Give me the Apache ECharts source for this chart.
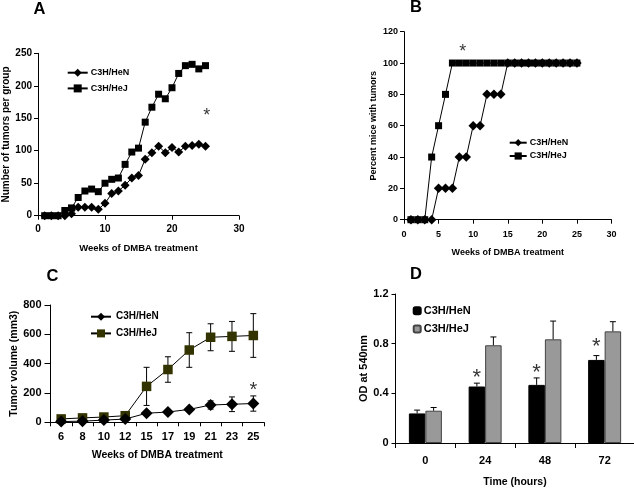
<!DOCTYPE html>
<html>
<head>
<meta charset="utf-8">
<script src="https://cdn.jsdelivr.net/npm/echarts@6/dist/echarts.min.js"></script>
<style>
html,body{margin:0;padding:0;background:#fff;}
#chart{width:634px;height:488px;}
</style>
</head>
<body>
<div id="chart"></div>
<script>
// ---------- data ----------
var seriesNames = ['C3H/HeN', 'C3H/HeJ'];

// Panel A: number of tumors per group
var weeksAB = [1,2,3,4,5,6,7,8,9,10,11,12,13,14,15,16,17,18,19,20,21,22,23,24,25];
var tumorsHeN = [0,0,0,0,3,13,13,13,10,19,34,38,47,58,62,87,97,107,97,105,98,107,108,110,107];
var tumorsHeJ = [0,0,0,8,12,28,38,41,37,50,56,58,79,98,104,144,167,187,180,197,219,231,233,226,231];
var starsA = [[25.2, 160]];

// Panel B: percent mice with tumors
var percentHeN = [0,0,0,0,20,20,20,40,40,60,60,80,80,80,100,100,100,100,100,100,100,100,100,100,100];
var percentHeJ = [0,0,0,40,60,80,100,100,100,100,100,100,100,100,100,100,100,100,100,100,100,100,100,100,100];
var starsB = [[8.5, 110]];

// Panel C: tumor volume
var weeksC = ['6','8','10','12','15','17','19','21','23','25'];
var volHeN = [5,8,15,22,62,70,88,118,123,128];
var volHeNErr = [4,5,6,8,12,12,14,28,50,52];
var volHeJ = [23,30,36,45,245,360,493,580,586,592];
var volHeJErr = [8,10,12,12,130,87,118,92,102,149];
var starsC = [['25', 254]];

// Panel D: OD at 540nm
var hoursD = ['0','24','48','72'];
var odHeN = [0.238,0.455,0.468,0.669];
var odHeNErr = [0.027,0.027,0.056,0.035];
var odHeJ = [0.26,0.787,0.835,0.899];
var odHeJErr = [0.026,0.067,0.147,0.078];
var starsD = [['24', 0.57], ['48', 0.61], ['72', 0.82]];

// ---------- helpers ----------
var FONT = 'Liberation Sans, Arial, sans-serif';
function zip(xs, ys) { return xs.map(function (x, i) { return [x, ys[i]]; }); }
function errData(ys, es) { return ys.map(function (y, i) { return [i, y, es[i]]; }); }
function stripName(n) { return n.replace(/^[A-D]:/, ''); }

function errRender(offsetPx, both, capHalf) {
  return function (params, api) {
    var x = api.value(0), y = api.value(1), e = api.value(2);
    var top = api.coord([x, y + e]);
    var bot = api.coord(both ? [x, y - e] : [x, y]);
    var cx = top[0] + offsetPx;
    var st = { stroke: '#000', lineWidth: 1 };
    var ch = [
      { type: 'line', shape: { x1: cx, y1: top[1], x2: cx, y2: bot[1] }, style: st },
      { type: 'line', shape: { x1: cx - capHalf, y1: top[1], x2: cx + capHalf, y2: top[1] }, style: st }
    ];
    if (both) ch.push({ type: 'line', shape: { x1: cx - capHalf, y1: bot[1], x2: cx + capHalf, y2: bot[1] }, style: st });
    return { type: 'group', children: ch };
  };
}

function axisCommon(fontSize, margin) {
  return {
    axisLine: { show: true, onZero: false, lineStyle: { color: '#000', width: 1 } },
    axisTick: { show: true, length: 4, lineStyle: { color: '#000', width: 1 } },
    axisLabel: { color: '#000', fontFamily: FONT, fontWeight: 'bold', fontSize: fontSize, margin: margin },
    splitLine: { show: false },
    nameTextStyle: { color: '#000', fontFamily: FONT, fontWeight: 'bold' }
  };
}
function merge(a, b) { var o = {}; for (var k in a) o[k] = a[k]; for (var k2 in b) o[k2] = b[k2]; return o; }

function starSeries(xi, yi, data, size, dx) {
  return {
    type: 'scatter', xAxisIndex: xi, yAxisIndex: yi, data: data, silent: true,
    symbol: 'circle', symbolSize: 1, itemStyle: { color: 'rgba(0,0,0,0)' }, z: 10,
    label: { show: true, position: 'inside', formatter: '*', color: '#000', fontFamily: FONT,
             fontSize: size, offset: [dx || 0, size * 0.25] },
    emphasis: { disabled: true }
  };
}

var BAR_W = 16.5;
var letterStyle = { fontFamily: FONT, fontWeight: 'bold', fontSize: 16.5, color: '#000' };

var option = {
  animation: false,
  backgroundColor: '#fff',
  title: [
    { text: 'A', left: 33.5, top: 1, padding: 0, textStyle: letterStyle },
    { text: 'B', left: 410, top: -1, padding: 0, textStyle: letterStyle },
    { text: 'C', left: 46.5, top: 268, padding: 0, textStyle: letterStyle },
    { text: 'D', left: 410, top: 266, padding: 0, textStyle: letterStyle }
  ],
  legend: [
    { orient: 'vertical', left: 66.7, top: 68.2, padding: 0, itemWidth: 20, itemHeight: 10, itemGap: 6.7,
      data: ['A:' + seriesNames[0], 'A:' + seriesNames[1]], formatter: stripName, selectedMode: false,
      textStyle: { fontFamily: FONT, fontSize: 9, fontWeight: 'bold', color: '#000', padding: [0, 0, 0, -2] } },
    { orient: 'vertical', left: 508.7, top: 138.2, padding: 0, itemWidth: 17, itemHeight: 9, itemGap: 4.3,
      data: ['B:' + seriesNames[0], 'B:' + seriesNames[1]], formatter: stripName, selectedMode: false,
      textStyle: { fontFamily: FONT, fontSize: 9, fontWeight: 'bold', color: '#000', padding: [0, 0, 0, -2] } },
    { orient: 'vertical', left: 90, top: 311.7, padding: 0, itemWidth: 20, itemHeight: 10, itemGap: 6.7,
      data: ['C:' + seriesNames[0], 'C:' + seriesNames[1]], formatter: stripName, selectedMode: false,
      textStyle: { fontFamily: FONT, fontSize: 10, fontWeight: 'bold', color: '#000' } },
    { orient: 'vertical', left: 412.7, top: 305.2, padding: 0, itemWidth: 7, itemHeight: 7, itemGap: 7.3,
      data: ['D:' + seriesNames[0], 'D:' + seriesNames[1]], formatter: stripName, selectedMode: false,
      textStyle: { fontFamily: FONT, fontSize: 11, fontWeight: 'bold', color: '#000', padding: [0, 0, 0, -2] } }
  ],
  grid: [
    { left: 38, top: 53.3, width: 201, height: 162.4, containLabel: false, outerBoundsMode: 'none' },
    { left: 404, top: 31.7, width: 207.5, height: 188, containLabel: false, outerBoundsMode: 'none' },
    { left: 50.5, top: 305, width: 213.5, height: 117.3, containLabel: false, outerBoundsMode: 'none' },
    { left: 395.5, top: 294, width: 239, height: 149, containLabel: false, outerBoundsMode: 'none' }
  ],
  xAxis: [
    merge(axisCommon(10, 9), { gridIndex: 0, type: 'value', min: 0, max: 30, interval: 10,
      name: 'Weeks of DMBA treatment', nameLocation: 'middle', nameGap: 28,
      nameTextStyle: { color: '#000', fontFamily: FONT, fontWeight: 'bold', fontSize: 9.5 } }),
    merge(axisCommon(9, 10), { gridIndex: 1, type: 'value', min: 0, max: 30, interval: 5,
      name: 'Weeks of DMBA treatment', nameLocation: 'middle', nameGap: 28,
      nameTextStyle: { color: '#000', fontFamily: FONT, fontWeight: 'bold', fontSize: 9 } }),
    merge(axisCommon(11, 9), { gridIndex: 2, type: 'category', data: weeksC, boundaryGap: true,
      name: 'Weeks of DMBA treatment', nameLocation: 'middle', nameGap: 27,
      axisTick: { show: true, length: 4, alignWithLabel: false, lineStyle: { color: '#000' } },
      nameTextStyle: { color: '#000', fontFamily: FONT, fontWeight: 'bold', fontSize: 10.5 } }),
    merge(axisCommon(11, 12), { gridIndex: 3, type: 'category', data: hoursD, boundaryGap: true,
      name: 'Time (hours)', nameLocation: 'middle', nameGap: 34,
      axisTick: { show: true, length: 5, alignWithLabel: false, lineStyle: { color: '#000' } },
      nameTextStyle: { color: '#000', fontFamily: FONT, fontWeight: 'bold', fontSize: 10.5 } })
  ],
  yAxis: [
    merge(axisCommon(10, 6), { gridIndex: 0, type: 'value', min: 0, max: 250, interval: 50,
      name: 'Number of tumors per group', nameLocation: 'middle', nameGap: 24,
      nameTextStyle: { color: '#000', fontFamily: FONT, fontWeight: 'bold', fontSize: 10 } }),
    merge(axisCommon(9, 6), { gridIndex: 1, type: 'value', min: 0, max: 120, interval: 20,
      name: 'Percent mice with tumors', nameLocation: 'middle', nameGap: 25.5,
      nameTextStyle: { color: '#000', fontFamily: FONT, fontWeight: 'bold', fontSize: 9 } }),
    merge(axisCommon(11, 9), { gridIndex: 2, type: 'value', min: 0, max: 800, interval: 200,
      name: 'Tumor volume (mm3)', nameLocation: 'middle', nameGap: 30,
      axisTick: { show: true, length: 6, lineStyle: { color: '#000' } },
      nameTextStyle: { color: '#000', fontFamily: FONT, fontWeight: 'bold', fontSize: 10.5 } }),
    merge(axisCommon(11, 7), { gridIndex: 3, type: 'value', min: 0, max: 1.2, interval: 0.4,
      name: 'OD at 540nm', nameLocation: 'middle', nameGap: 26,
      axisLabel: { color: '#000', fontFamily: FONT, fontWeight: 'bold', fontSize: 11, margin: 7,
        formatter: function (v) { return v === 0 ? '0' : v.toFixed(1); } },
      nameTextStyle: { color: '#000', fontFamily: FONT, fontWeight: 'bold', fontSize: 11 } })
  ],
  series: [
    // Panel A
    { name: 'A:' + seriesNames[1], type: 'line', xAxisIndex: 0, yAxisIndex: 0, data: zip(weeksAB, tumorsHeJ),
      symbol: 'rect', symbolSize: 7, itemStyle: { color: '#000' }, lineStyle: { color: '#000', width: 1 }, z: 2 },
    { name: 'A:' + seriesNames[0], type: 'line', xAxisIndex: 0, yAxisIndex: 0, data: zip(weeksAB, tumorsHeN),
      symbol: 'diamond', symbolSize: 9, itemStyle: { color: '#000' }, lineStyle: { color: '#000', width: 1 }, z: 3 },
    starSeries(0, 0, starsA, 18),
    // Panel B
    { name: 'B:' + seriesNames[1], type: 'line', xAxisIndex: 1, yAxisIndex: 1, data: zip(weeksAB, percentHeJ),
      symbol: 'rect', symbolSize: 7, itemStyle: { color: '#000' }, lineStyle: { color: '#000', width: 1 }, z: 2 },
    { name: 'B:' + seriesNames[0], type: 'line', xAxisIndex: 1, yAxisIndex: 1, data: zip(weeksAB, percentHeN),
      symbol: 'diamond', symbolSize: 9.5, itemStyle: { color: '#000' }, lineStyle: { color: '#000', width: 1 }, z: 3 },
    starSeries(1, 1, starsB, 18),
    // Panel C
    { type: 'custom', xAxisIndex: 2, yAxisIndex: 2, data: errData(volHeJ, volHeJErr), renderItem: errRender(0, true, 3), silent: true, z: 1 },
    { type: 'custom', xAxisIndex: 2, yAxisIndex: 2, data: errData(volHeN, volHeNErr), renderItem: errRender(0, true, 3), silent: true, z: 1 },
    { name: 'C:' + seriesNames[1], type: 'line', xAxisIndex: 2, yAxisIndex: 2, data: volHeJ,
      symbol: 'rect', symbolSize: 9.5, itemStyle: { color: '#333300' }, lineStyle: { color: '#000', width: 1 }, z: 2 },
    { name: 'C:' + seriesNames[0], type: 'line', xAxisIndex: 2, yAxisIndex: 2, data: volHeN,
      symbol: 'diamond', symbolSize: 12, itemStyle: { color: '#000' }, lineStyle: { color: '#000', width: 1 }, z: 3 },
    starSeries(2, 2, starsC, 20),
    // Panel D
    { name: 'D:' + seriesNames[0], type: 'bar', xAxisIndex: 3, yAxisIndex: 3, data: odHeN, barWidth: BAR_W, barGap: '0%',
      itemStyle: { color: '#000', borderColor: '#000', borderWidth: 1 }, z: 2 },
    { name: 'D:' + seriesNames[1], type: 'bar', xAxisIndex: 3, yAxisIndex: 3, data: odHeJ, barWidth: BAR_W, barGap: '0%',
      itemStyle: { color: '#999999', borderColor: '#444', borderWidth: 1 }, z: 2 },
    { type: 'custom', xAxisIndex: 3, yAxisIndex: 3, data: errData(odHeN, odHeNErr), renderItem: errRender(-BAR_W / 2, false, 3), silent: true, z: 3 },
    { type: 'custom', xAxisIndex: 3, yAxisIndex: 3, data: errData(odHeJ, odHeJErr), renderItem: errRender(BAR_W / 2, false, 3), silent: true, z: 3 },
    starSeries(3, 3, starsD, 22, -BAR_W / 2)
  ]
};

var chart = echarts.init(document.getElementById('chart'), null, { renderer: 'canvas' });
chart.setOption(option);
</script>
</body>
</html>
